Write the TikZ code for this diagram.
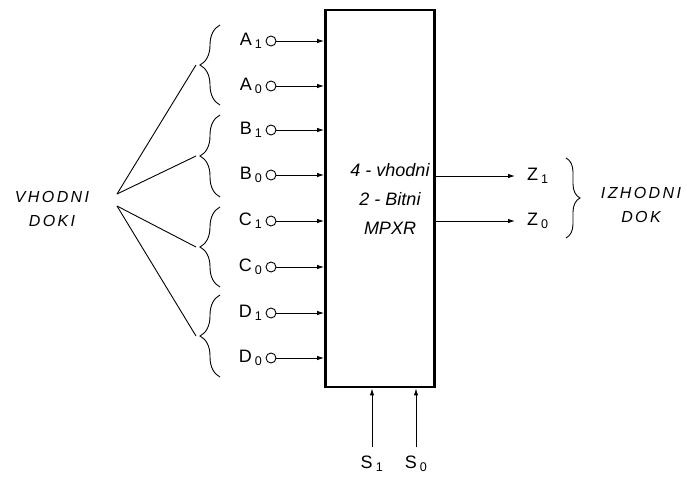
\documentclass[tikz,border=0pt]{standalone}
\usepackage{fontspec}
\setmainfont{Liberation Sans}
\newfontfamily\handfont[LetterSpace=15]{Liberation Sans}
\usetikzlibrary{arrows.meta,positioning,decorations.pathreplacing,calc}
\tikzset{
  mux/.style  = {draw, line width=2.8pt, minimum width=109pt,
                 minimum height=377pt, inner sep=0pt},
  pin/.style  = {circle, draw, line width=0.9pt, inner sep=0pt,
                 minimum size=10pt},
  sig/.style  = {font=\fontsize{18}{20}\selectfont, inner sep=1pt},
  ar/.style   = {-{Latex[length=7pt,width=4.5pt]}, line width=0.9pt},
  wire/.style = {line width=0.9pt},
  brc/.style  = {decorate, decoration={brace, amplitude=#1},
                 line width=0.9pt},
  hand/.style = {font=\handfont\itshape\fontsize{16}{24}\selectfont,
                 align=center, inner sep=0pt},
  boxtxt/.style = {font=\itshape\fontsize{18}{29}\selectfont,
                   align=center, inner sep=0pt},
}

\begin{document}
\begin{tikzpicture}[x=1pt,y=-1pt]
  \useasboundingbox (0,0) rectangle (687,480);

  % the multiplexer block
  \node[mux] (mx) at (380,198.5) {};
  \node[boxtxt] (mxt) at (390,199) {4 - vhodni\\2 - Bitni\\MPXR};

  % data inputs
  \foreach \l/\i/\y in {A/1/41, A/0/86, B/1/130, B/0/175,
                        C/1/221, C/0/267, D/1/313, D/0/358}{
    \node[pin] (p\l\i) at (271,\y) {};
    \node[sig, left=2pt of p\l\i] (l\l\i) {\l\,\textsubscript{\i}};
    \draw[ar] (p\l\i) -- (p\l\i -| mx.west);
  }

  % one brace per input word
  \foreach \g/\t/\b in {A/25/105, B/115/197, C/207/287, D/295/377}{
    \draw[brc=20] (220,\b) -- (220,\t);
    \coordinate (t\g) at (196,{(\t+\b)/2});
  }

  \node[hand] (vin) at (52,209) {VHODNI\\DOKI};
  \coordinate (fu) at (117,194);
  \coordinate (fl) at (117,206);
  \draw[wire] (fu) -- (tA);
  \draw[wire] (fu) -- (tB);
  \draw[wire] (fl) -- (tC);
  \draw[wire] (fl) -- (tD);

  % outputs
  \foreach \i/\y in {1/176, 0/221}{
    \coordinate (o\i) at (515,\y);
    \draw[ar] (mx.east |- o\i) -- (o\i);
    \node[sig, right=11pt of o\i] (z\i) {Z\,\textsubscript{\i}};
  }
  \draw[brc=14] (566,158) -- (566,238);
  \node[hand] (vout) at (641,205) {IZHODNI\\DOK};

  % select lines
  \foreach \i/\x in {1/372, 0/416}{
    \coordinate (s\i) at (\x,447);
    \draw[ar] (s\i) -- (s\i |- mx.south);
    \node[sig, below=8pt of s\i] (sl\i) {S\,\textsubscript{\i}};
  }
\end{tikzpicture}
\end{document}
